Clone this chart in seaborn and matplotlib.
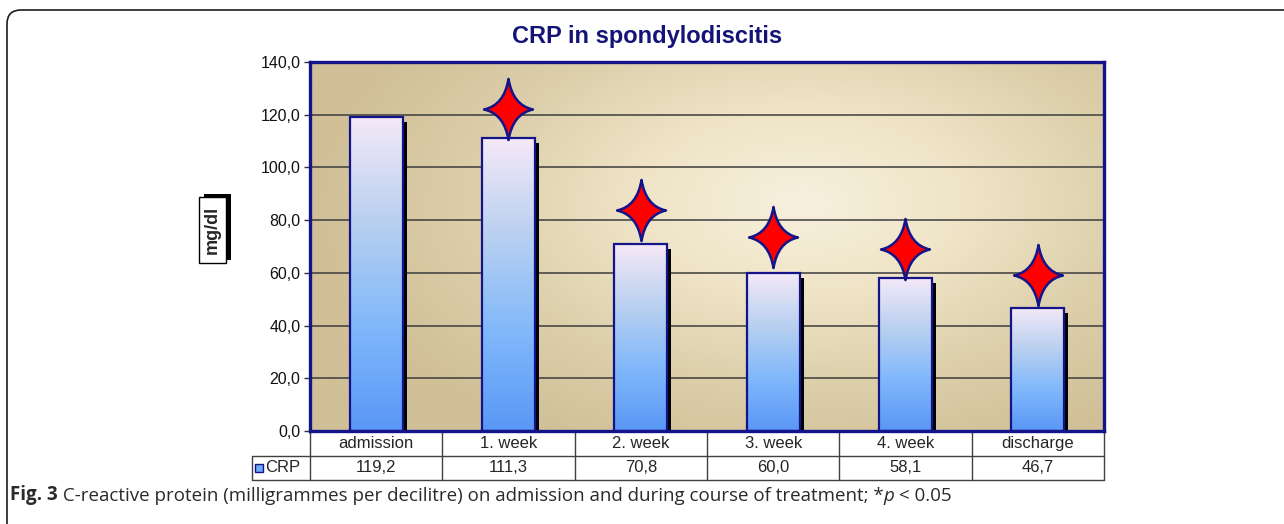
import numpy as np
import pandas as pd
import matplotlib
matplotlib.use("Agg")
import matplotlib.pyplot as plt
import matplotlib.transforms as mtransforms
import seaborn as sns
from matplotlib.colors import LinearSegmentedColormap
from matplotlib.patches import Rectangle, FancyBboxPatch
from matplotlib.path import Path
from matplotlib.ticker import FuncFormatter

categories = ["admission", "1. week", "2. week", "3. week", "4. week", "discharge"]
crp_values = [119.2, 111.3, 70.8, 60.0, 58.1, 46.7]

# significance stars (*p < 0.05), centre heights
star_categories = ["1. week", "2. week", "3. week", "4. week", "discharge"]
star_heights = [122.0, 84.0, 73.5, 69.0, 59.0]

y_ticks = [0, 20, 40, 60, 80, 100, 120, 140]

title = "CRP in spondylodiscitis"
y_label = "mg/dl"
series_name = "CRP"
caption_parts = [
    ("Fig. 3", "bold", "normal"),
    (" C-reactive protein (milligrammes per decilitre) on admission and during course of treatment; *", "normal", "normal"),
    ("p", "normal", "italic"),
    (" < 0.05", "normal", "normal"),
]

NAVY = "#14148a"
W, H = 1284, 524

sns.set_style("white")
plt.rcParams['font.family'] = ['Liberation Sans', 'DejaVu Sans']

fig = plt.figure(figsize=(W / 100, H / 100), dpi=100)


def fx(px):
    return px / W


def fy(py):
    return 1 - py / H


# outer rounded frame
frame = FancyBboxPatch((7, -20), 1310, H - 10 + 20,
                       boxstyle="round,pad=0,rounding_size=14",
                       transform=mtransforms.IdentityTransform(),
                       facecolor="none", edgecolor="#1e1e1e", linewidth=1.2)
fig.add_artist(frame)

ax = fig.add_axes([fx(310), fy(431), fx(1104) - fx(310), fy(62) - fy(431)])

# background gradient of the plot area
bg_cmap = LinearSegmentedColormap.from_list("bg", ["#f7f0de", "#efe4c6", "#dccfaa", "#d0bf97"])
gx, gy = np.meshgrid(np.linspace(0, 1, 300), np.linspace(0, 1, 200))
r = np.sqrt(((gx - 0.62) / 0.62) ** 2 + ((gy - 0.62) / 0.75) ** 2)
ax.imshow(np.clip(r, 0, 1), extent=[0, 1, 0, 1], transform=ax.transAxes,
          cmap=bg_cmap, vmin=0, vmax=1, aspect="auto", origin="lower", zorder=0)

df = pd.DataFrame({"stage": categories, "crp": crp_values})
sns.barplot(data=df, x="stage", y="crp", width=0.4, color="#6fa8f5",
            edgecolor=NAVY, linewidth=1.6, ax=ax, zorder=3)

bar_cmap = LinearSegmentedColormap.from_list("bar", ["#5a97f6", "#80b8fb", "#b9d0f0", "#f5e9f8"])
shadow_tr = mtransforms.offset_copy(ax.transData, fig=fig, x=4, y=-5, units="dots")
grad = np.linspace(0, 1, 256).reshape(-1, 1)
for p in ax.patches:
    x0, w, h = p.get_x(), p.get_width(), p.get_height()
    ax.add_patch(Rectangle((x0, 0), w, h, transform=shadow_tr,
                           facecolor="black", edgecolor="none", zorder=1.5))
    ax.imshow(grad, extent=[x0, x0 + w, 0, h], cmap=bar_cmap, aspect="auto",
              origin="lower", zorder=2, interpolation="bicubic")
    p.set_facecolor("none")

# four-pointed stars
k = 0.07
star = Path([(0, 0.5), (k, k), (0.4, 0), (k, -k), (0, -0.5), (-k, -k),
             (-0.4, 0), (-k, k), (0, 0.5), (0, 0.5)],
            [Path.MOVETO, Path.CURVE3, Path.CURVE3, Path.CURVE3, Path.CURVE3,
             Path.CURVE3, Path.CURVE3, Path.CURVE3, Path.CURVE3, Path.CLOSEPOLY])
star_x = [categories.index(c) for c in star_categories]
ax.plot(star_x, star_heights, linestyle="none", marker=star, markersize=44,
        markerfacecolor="#ff0000", markeredgecolor=NAVY, markeredgewidth=1.8,
        zorder=5, clip_on=False)

ax.set_xlim(-0.5, len(categories) - 0.5)
ax.set_ylim(0, 140)
ax.set_yticks(y_ticks)
ax.yaxis.set_major_formatter(FuncFormatter(lambda v, _: f"{v:.1f}".replace(".", ",")))
ax.set_axisbelow(True)
ax.yaxis.grid(True, color="#3c3c3c", linewidth=1.1)
ax.xaxis.grid(False)
ax.set_xticks([])
ax.set_xlabel("")
ax.set_ylabel("")
ax.tick_params(axis="y", left=True, length=4, width=1, color="#333333",
               labelsize=11.5, labelcolor="#111111", pad=3)
for s in ax.spines.values():
    s.set_color(NAVY)
    s.set_linewidth(2.4)
    s.set_zorder(6)

fig.text(fx(647), fy(36), title, ha="center", va="center", fontsize=17,
         fontweight="bold", color="#141478")

# data table under the plot
tb = mtransforms.blended_transform_factory(ax.transData, fig.transFigure)
lc = "#404040"
for i in range(len(categories) + 1):
    ax.plot([i - 0.5, i - 0.5], [fy(431), fy(480)], color=lc, lw=1, transform=tb, clip_on=False)
for yy in (456, 480):
    fig.add_artist(plt.Line2D([fx(252), fx(1104)], [fy(yy), fy(yy)], color=lc, lw=1))
fig.add_artist(plt.Line2D([fx(252), fx(252)], [fy(456), fy(480)], color=lc, lw=1))
for i, (c, v) in enumerate(zip(categories, crp_values)):
    ax.text(i, fy(443.5), c, transform=tb, ha="center", va="center", fontsize=12, clip_on=False)
    ax.text(i, fy(468), f"{v:.1f}".replace(".", ","), transform=tb, ha="center",
            va="center", fontsize=12, clip_on=False)
fig.add_artist(Rectangle((fx(255), fy(472)), fx(8), 8 / H, facecolor="#6fa8f5",
                         edgecolor=NAVY, linewidth=1))
fig.text(fx(265), fy(468), series_name, ha="left", va="center", fontsize=12)

# y label in a shadowed box
fig.add_artist(Rectangle((fx(204), fy(260)), fx(27), 66 / H, facecolor="black", edgecolor="none"))
fig.add_artist(Rectangle((fx(199), fy(263)), fx(27), 66 / H, facecolor="white",
                         edgecolor="black", linewidth=1))
fig.text(fx(212.5), fy(230), y_label, rotation=90, ha="center", va="center",
         fontsize=13, fontweight="bold")

# caption with mixed styles
prev = None
for txt, wt, st in caption_parts:
    kw = dict(fontsize=13.5, fontweight=wt, fontstyle=st, color="#2a2a2a",
              family=["Open Sans", "DejaVu Sans"], va="bottom", ha="left")
    if prev is None:
        prev = fig.text(fx(10), fy(505), txt, **kw)
    else:
        prev = fig.add_artist(plt.Annotation(txt, xy=(1, 0), xycoords=prev, **kw))

fig.savefig("out.png", dpi=100)
